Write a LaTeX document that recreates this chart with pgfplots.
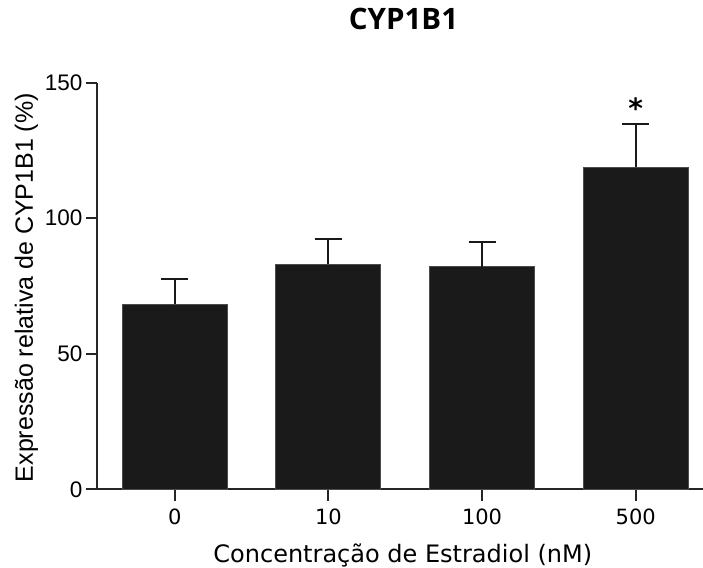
\documentclass[border=0pt]{standalone}
\usepackage{pgfplots}
\pgfplotsset{compat=1.18}
\usepackage{fontspec}
\setmainfont{Liberation Sans}
\newfontfamily\dejavu{DejaVu Sans}
\newfontfamily\opensans{Open Sans}
\definecolor{barfill}{HTML}{1A1A1A}
\definecolor{axiscol}{HTML}{262626}
\begin{document}
\begin{tikzpicture}
\begin{axis}[
  scale only axis,
  width=605.7pt, height=406.6pt,
  xmin=-0.504, xmax=3.438,
  ymin=0, ymax=150,
  axis x line*=bottom, axis y line*=left,
  axis line style={line width=1.8pt, axiscol},
  every tick/.style={line width=1.8pt, axiscol},
  tick align=outside,
  major tick length=11.3pt,
  xtick={0,1,2,3},
  xticklabels={0,10,100,500},
  ytick={0,50,100,150},
  /pgf/number format/assume math mode=true,
  yticklabel style={font=\fontsize{22.5}{26}\selectfont, anchor=east, xshift=0pt},
  xticklabel style={font=\dejavu\fontsize{21}{24}\selectfont, anchor=base, yshift=-23.4pt},
  xlabel={Concentração de Estradiol (nM)},
  xlabel style={font=\dejavu\fontsize{24}{28}\selectfont, at={(axis description cs:0.5044,-0.180)}, anchor=base},
  ylabel={Expressão relativa de CYP1B1 (\%)},
  ylabel style={font=\fontsize{25}{29}\selectfont, at={(axis description cs:-0.1062,0.496)}, anchor=base, rotate=0},
  title={CYP1B1},
  title style={font=\opensans\bfseries\fontsize{29.5}{33}\selectfont, at={(axis description cs:0.5055,1.1173)}, anchor=base},
  ybar, bar width=105pt,
]
\addplot[fill=barfill, draw=black!70, line width=1pt,
  error bars/.cd, y dir=plus, y explicit,
  error bar style={line width=2pt, black!90},
  error mark options={rotate=90, line width=2pt, mark size=13.5pt, black!90}]
  table[x=x, y=y, y error=e] {
x y e
0 68.2 9.5
1 83.0 9.4
2 82.1 9.0
3 118.8 16.1
};
\node[font=\dejavu\bfseries\fontsize{28}{32}\selectfont] at (axis cs:3,140.8) {*};
\end{axis}
\pgfresetboundingbox
\path (current axis.south west) ++(-97.3pt,-77.7pt) rectangle ++(703pt,567pt);
\end{tikzpicture}
\end{document}
